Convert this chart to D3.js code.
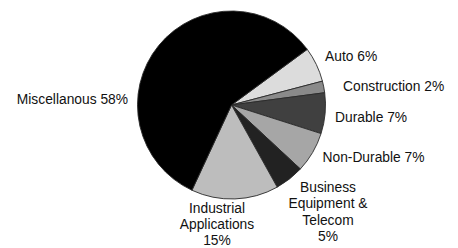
<!DOCTYPE html>
<html><head><meta charset="utf-8">
<script src="https://cdn.jsdelivr.net/npm/d3@7"></script>
<style>body{margin:0;background:#fff}svg{display:block}text{font-family:"Liberation Sans",Arial,sans-serif;font-size:13.8px;fill:#111}</style>
</head><body>
<svg id="c" width="458" height="248"></svg>
<script>
const categories = ["Auto","Construction","Durable","Non-Durable","Business Equipment & Telecom","Industrial Applications","Miscellanous"];
const values = [6,2,7,7,5,15,58];
const colors = ["#dcdcdc","#8a8a8a","#404040","#a6a6a6","#222222","#bdbdbd","#000000"];
const labelLines = [["Auto 6%"],["Construction 2%"],["Durable 7%"],["Non-Durable 7%"],["Business","Equipment &","Telecom","5%"],["Industrial","Applications","15%"],["Miscellanous 58%"]];
const labelPos = [[325,60.5,"start"],[343,90.5,"start"],[335,121.5,"start"],[322.5,161.5,"start"],[328,191.5,"middle"],[217,213,"middle"],[128,104,"end"]];
const lineH = [16,16,16,16,16.5,16,16];

const svg = d3.select("#c");
const cx = 231.5, cy = 105, r = 94;
const pie = d3.pie().sort(null).value(d=>d).startAngle(53.7*Math.PI/180).endAngle(53.7*Math.PI/180+2*Math.PI);
const arc = d3.arc().innerRadius(0).outerRadius(r);
const g = svg.append("g").attr("transform",`translate(${cx},${cy})`);
g.selectAll("path").data(pie(values)).join("path")
  .attr("d",arc).attr("fill",(d,i)=>colors[i])
  .attr("stroke","#2a2a2a").attr("stroke-width",0.9).attr("stroke-linejoin","round");

categories.forEach((c,i)=>{
  const [x,y,a] = labelPos[i];
  const t = svg.append("text").attr("x",x).attr("y",y).attr("text-anchor",a);
  labelLines[i].forEach((l,j)=>{
    t.append("tspan").attr("x",x).attr("y",y+j*lineH[i]).text(l);
  });
});
</script>
</body></html>
